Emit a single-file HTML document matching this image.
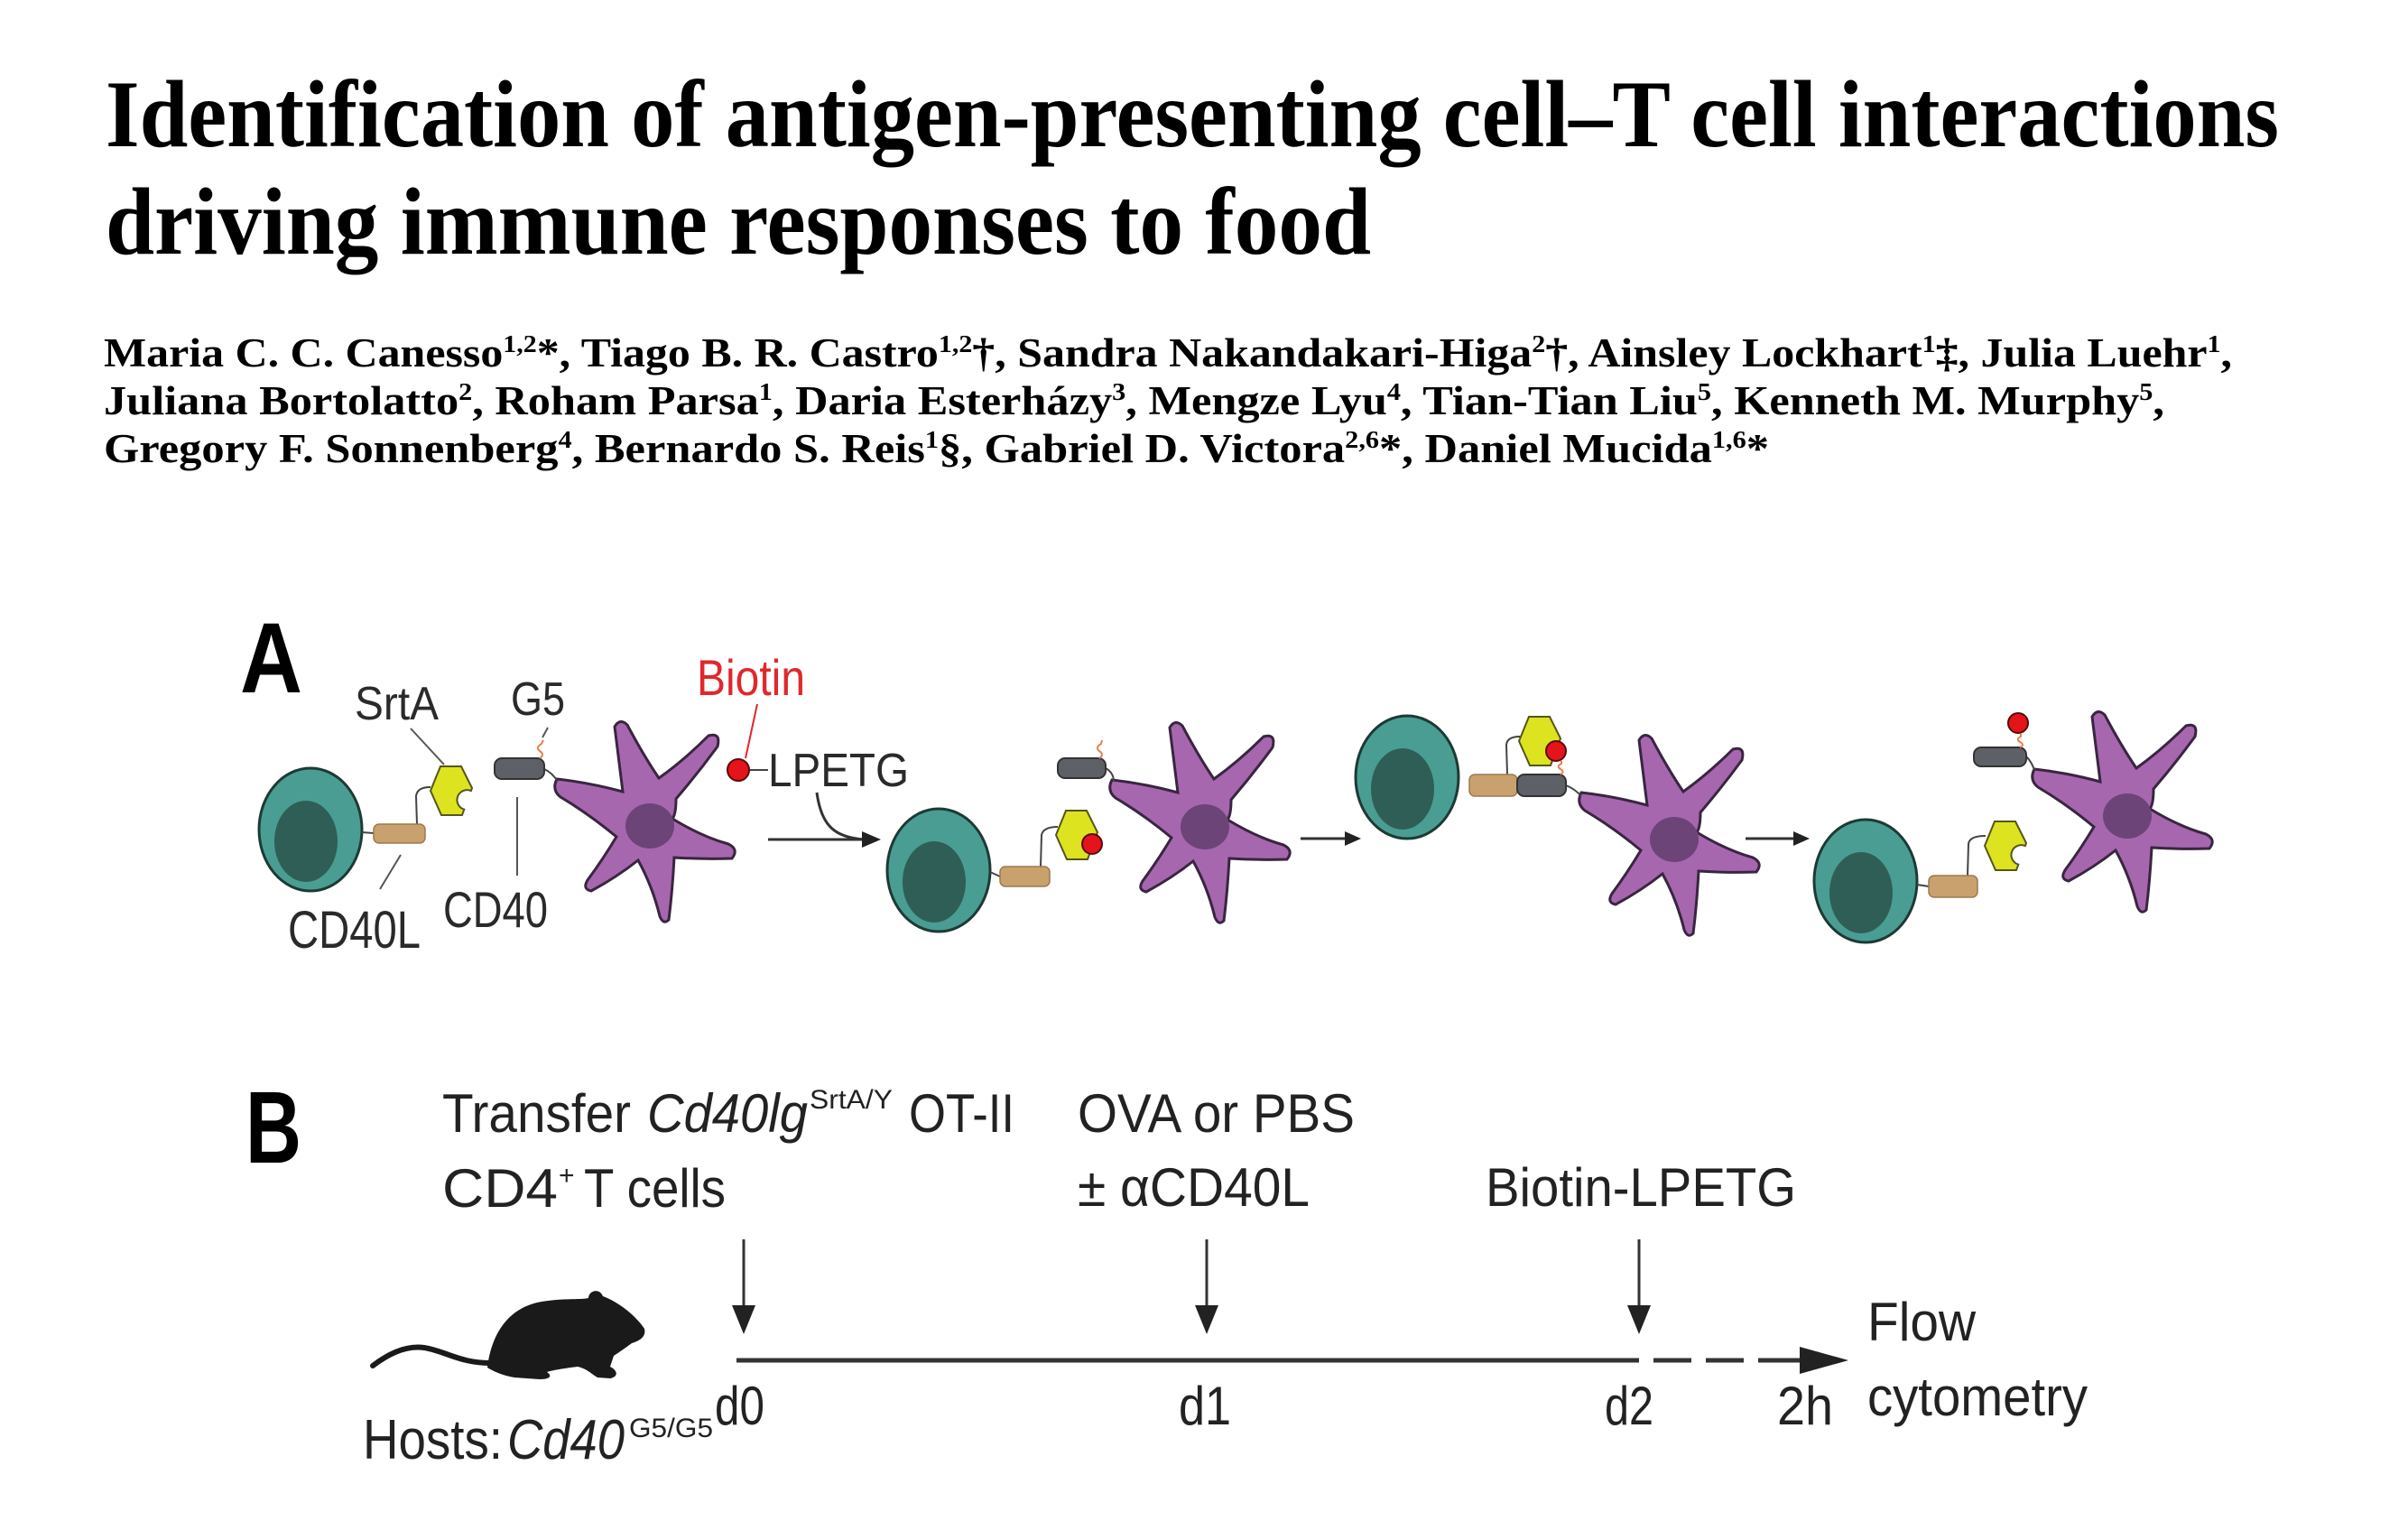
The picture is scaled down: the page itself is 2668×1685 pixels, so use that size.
<!DOCTYPE html>
<html>
<head>
<meta charset="utf-8">
<style>
html,body{margin:0;padding:0;background:#fff;}
svg{display:block;}
</style>
</head>
<body>
<svg width="2668" height="1685" viewBox="0 0 2668 1685" xmlns="http://www.w3.org/2000/svg">
<defs>
  <path id="dc" d="M -96,-44 Q -60,-40 -23,-30 Q -28,-70 -32,-102 Q -26,-112 -18,-104 Q 0,-70 17,-45 Q 45,-65 72,-92 Q 86,-96 82,-80 Q 60,-50 36,-22 Q 36,-5 32,0 Q 65,20 94,28 Q 106,34 98,44 Q 65,45 34,43 Q 32,80 28,112 Q 22,118 18,108 Q 10,75 -6,46 Q -30,65 -58,80 Q -68,78 -62,68 Q -45,45 -30,20 Q -60,-5 -92,-24 Q -102,-32 -96,-44 Z"/>
  <g id="dcell">
    <use href="#dc" fill="#a667af" stroke="#3a2540" stroke-width="3"/>
    <ellipse cx="7" cy="8" rx="27" ry="25" fill="#6c4478"/>
  </g>
  <g id="tcell">
    <ellipse cx="0" cy="0" rx="57" ry="68" fill="#4a9d92" stroke="#1d3a35" stroke-width="3"/>
    <ellipse cx="-5" cy="13" rx="35" ry="45" fill="#2f5e56"/>
  </g>
  <path id="yhex" d="M -23,0 L -12,-27 L 11,-27 L 23,-3 L 12,27 L -11,27 Z"/>
  <path id="ynotch" d="M -23,0 L -12,-27 L 11,-27 L 23,-3 L 21.9,0.1 A 11 11 0 1 0 14.3,20.7 L 12,27 L -11,27 Z"/>
</defs>

<!-- Title -->
<g font-family="'Liberation Serif', serif" font-weight="bold" fill="#000">
  <text x="117" y="162" font-size="106" textLength="2408" lengthAdjust="spacingAndGlyphs">Identification of antigen-presenting cell–T cell interactions</text>
  <text x="117" y="281" font-size="106" textLength="1402" lengthAdjust="spacingAndGlyphs">driving immune responses to food</text>

  <text x="115" y="406" font-size="45" textLength="2358" lengthAdjust="spacingAndGlyphs">Maria C. C. Canesso<tspan dy="-16" font-size="27">1,2</tspan><tspan dy="16">*, Tiago B. R. Castro</tspan><tspan dy="-16" font-size="27">1,2</tspan><tspan dy="16">†, Sandra Nakandakari-Higa</tspan><tspan dy="-16" font-size="27">2</tspan><tspan dy="16">†, Ainsley Lockhart</tspan><tspan dy="-16" font-size="27">1</tspan><tspan dy="16">‡, Julia Luehr</tspan><tspan dy="-16" font-size="27">1</tspan><tspan dy="16">,</tspan></text>
  <text x="115" y="459" font-size="45" textLength="2283" lengthAdjust="spacingAndGlyphs">Juliana Bortolatto<tspan dy="-16" font-size="27">2</tspan><tspan dy="16">, Roham Parsa</tspan><tspan dy="-16" font-size="27">1</tspan><tspan dy="16">, Daria Esterházy</tspan><tspan dy="-16" font-size="27">3</tspan><tspan dy="16">, Mengze Lyu</tspan><tspan dy="-16" font-size="27">4</tspan><tspan dy="16">, Tian-Tian Liu</tspan><tspan dy="-16" font-size="27">5</tspan><tspan dy="16">, Kenneth M. Murphy</tspan><tspan dy="-16" font-size="27">5</tspan><tspan dy="16">,</tspan></text>
  <text x="115" y="512" font-size="45" textLength="1845" lengthAdjust="spacingAndGlyphs">Gregory F. Sonnenberg<tspan dy="-16" font-size="27">4</tspan><tspan dy="16">, Bernardo S. Reis</tspan><tspan dy="-16" font-size="27">1</tspan><tspan dy="16">§, Gabriel D. Victora</tspan><tspan dy="-16" font-size="27">2,6</tspan><tspan dy="16">*, Daniel Mucida</tspan><tspan dy="-16" font-size="27">1,6</tspan><tspan dy="16">*</tspan></text>
</g>

<!-- Panel A -->
<g font-family="'Liberation Sans', sans-serif">
  <text x="266" y="767" font-size="110" font-weight="bold" fill="#000" textLength="69" lengthAdjust="spacingAndGlyphs">A</text>
  <text x="393" y="797" font-size="52" fill="#2a2a2a" textLength="93" lengthAdjust="spacingAndGlyphs">SrtA</text>
  <text x="566" y="792" font-size="52" fill="#2a2a2a" textLength="60" lengthAdjust="spacingAndGlyphs">G5</text>
  <text x="491" y="1027" font-size="56" fill="#2a2a2a" textLength="116" lengthAdjust="spacingAndGlyphs">CD40</text>
  <text x="319" y="1050" font-size="58" fill="#2a2a2a" textLength="147" lengthAdjust="spacingAndGlyphs">CD40L</text>
  <text x="772" y="770" font-size="56" fill="#e0282c" textLength="120" lengthAdjust="spacingAndGlyphs">Biotin</text>
  <text x="851" y="871" font-size="52" fill="#2a2a2a" textLength="156" lengthAdjust="spacingAndGlyphs">LPETG</text>
</g>

<!-- label lines -->
<g stroke="#555" stroke-width="2" fill="none">
  <line x1="455" y1="807" x2="492" y2="847"/>
  <line x1="601" y1="817" x2="607" y2="806"/>
  <line x1="573" y1="883" x2="573" y2="970"/>
  <line x1="444" y1="947" x2="421" y2="985"/>
</g>
<line x1="839" y1="780" x2="826" y2="840" stroke="#e0282c" stroke-width="2"/>

<!-- Group 1 -->
<use href="#dcell" transform="translate(713,907)"/>
<use href="#tcell" transform="translate(344,919)"/>
<g stroke="#444" stroke-width="2" fill="none">
  <line x1="401" y1="922" x2="414" y2="923"/>
  <path d="M 462,913 L 461,882 Q 462,872 477,872"/>
  <path d="M 603,852 Q 612,856 618,866"/>
</g>
<rect x="414" y="913" width="57" height="21" rx="6" fill="#c9a16e" stroke="#9a7a50" stroke-width="1.5"/>
<use href="#ynotch" transform="translate(500,876)" fill="#dde31f" stroke="#55551c" stroke-width="2"/>
<rect x="548" y="840" width="55" height="23" rx="8" fill="#5d6066" stroke="#333" stroke-width="2"/>
<path d="M 598,840 q 6,-4 0,-8 q -5,-4 2,-8 l 2,-4" stroke="#e8804f" stroke-width="2" fill="none"/>

<!-- Biotin LPETG -->
<line x1="830" y1="853" x2="851" y2="853" stroke="#444" stroke-width="2"/>
<circle cx="818" cy="853" r="12" fill="#e4141b" stroke="#5a0a0a" stroke-width="2"/>

<!-- Arrow 1 with curve -->
<g stroke="#333" stroke-width="3" fill="none">
  <line x1="851" y1="930" x2="960" y2="930"/>
  <path d="M 905,878 C 910,915 925,928 958,930"/>
</g>
<polygon points="955,921 976,930 955,939" fill="#222"/>

<!-- Group 2 -->
<use href="#dcell" transform="translate(1328,908)"/>
<use href="#tcell" transform="translate(1040,964)"/>
<g stroke="#444" stroke-width="2" fill="none">
  <line x1="1097" y1="966" x2="1108" y2="971"/>
  <path d="M 1153,960 L 1154,925 Q 1156,916 1172,916"/>
  <path d="M 1225,851 Q 1234,856 1234,866"/>
</g>
<rect x="1108" y="960" width="55" height="22" rx="6" fill="#c9a16e" stroke="#9a7a50" stroke-width="1.5"/>
<use href="#yhex" transform="translate(1193,925)" fill="#dde31f" stroke="#55551c" stroke-width="2"/>
<circle cx="1210" cy="935" r="11" fill="#e4141b" stroke="#5a0a0a" stroke-width="2"/>
<rect x="1172" y="840" width="53" height="22" rx="8" fill="#5d6066" stroke="#333" stroke-width="2"/>
<path d="M 1218,840 q 6,-4 0,-8 q -5,-4 2,-8 l 1,-4" stroke="#e8804f" stroke-width="2" fill="none"/>

<!-- Arrow 2 -->
<line x1="1441" y1="929" x2="1494" y2="929" stroke="#333" stroke-width="3"/>
<polygon points="1490,921 1508,929 1490,937" fill="#222"/>

<!-- Group 3 -->
<use href="#dcell" transform="translate(1848,922)"/>
<use href="#tcell" transform="translate(1559,861)"/>
<g stroke="#444" stroke-width="2" fill="none">
  <path d="M 1670,858 L 1669,825 Q 1670,816 1684,816"/>
  <path d="M 1735,870 Q 1745,874 1752,882"/>
</g>
<rect x="1628" y="858" width="53" height="24" rx="6" fill="#c9a16e" stroke="#9a7a50" stroke-width="1.5"/>
<rect x="1681" y="858" width="54" height="24" rx="8" fill="#5d6066" stroke="#333" stroke-width="2"/>
<use href="#yhex" transform="translate(1706,821)" fill="#dde31f" stroke="#55551c" stroke-width="2"/>
<path d="M 1729,858 q 5,-3 0,-6 q -5,-3 1,-6 l 0,-3" stroke="#e8804f" stroke-width="2" fill="none"/>
<circle cx="1724" cy="832" r="11" fill="#e4141b" stroke="#5a0a0a" stroke-width="2"/>

<!-- Arrow 3 -->
<line x1="1934" y1="929" x2="1990" y2="929" stroke="#333" stroke-width="3"/>
<polygon points="1987,921 2005,929 1987,937" fill="#222"/>

<!-- Group 4 -->
<use href="#dcell" transform="translate(2350,896)"/>
<use href="#tcell" transform="translate(2067,976)"/>
<g stroke="#444" stroke-width="2" fill="none">
  <line x1="2124" y1="980" x2="2137" y2="982"/>
  <path d="M 2180,970 L 2181,935 Q 2182,926 2200,926"/>
  <path d="M 2245,838 Q 2251,844 2254,853"/>
</g>
<rect x="2137" y="970" width="54" height="24" rx="6" fill="#c9a16e" stroke="#9a7a50" stroke-width="1.5"/>
<use href="#ynotch" transform="translate(2222,937)" fill="#dde31f" stroke="#55551c" stroke-width="2"/>
<rect x="2187" y="828" width="58" height="21" rx="8" fill="#5d6066" stroke="#333" stroke-width="2"/>
<path d="M 2238,828 q 6,-3 0,-6 q -5,-3 1,-6 l 0,-3" stroke="#e8804f" stroke-width="2" fill="none"/>
<circle cx="2236" cy="801" r="11" fill="#e4141b" stroke="#5a0a0a" stroke-width="2"/>

<!-- Panel B -->
<g font-family="'Liberation Sans', sans-serif" fill="#222">
  <text x="272" y="1288" font-size="113" font-weight="bold" fill="#000" textLength="62" lengthAdjust="spacingAndGlyphs">B</text>
  <text x="490" y="1254" font-size="60" textLength="209" lengthAdjust="spacingAndGlyphs">Transfer</text>
  <text x="717" y="1254" font-size="60" font-style="italic" textLength="178" lengthAdjust="spacingAndGlyphs">Cd40lg</text>
  <text x="897" y="1228" font-size="30" textLength="92" lengthAdjust="spacingAndGlyphs">SrtA/Y</text>
  <text x="1007" y="1254" font-size="60" textLength="117" lengthAdjust="spacingAndGlyphs">OT-II</text>
  <text x="490" y="1337" font-size="60" textLength="128" lengthAdjust="spacingAndGlyphs">CD4</text>
  <text x="619" y="1312" font-size="30">+</text>
  <text x="647" y="1337" font-size="60" textLength="157" lengthAdjust="spacingAndGlyphs">T cells</text>
  <text x="1194" y="1254" font-size="60" textLength="307" lengthAdjust="spacingAndGlyphs">OVA or PBS</text>
  <text x="1194" y="1336" font-size="60" textLength="257" lengthAdjust="spacingAndGlyphs">± αCD40L</text>
  <text x="1646" y="1336" font-size="60" textLength="344" lengthAdjust="spacingAndGlyphs">Biotin-LPETG</text>
  <text x="2069" y="1485" font-size="60" textLength="120" lengthAdjust="spacingAndGlyphs">Flow</text>
  <text x="2069" y="1568" font-size="60" textLength="244" lengthAdjust="spacingAndGlyphs">cytometry</text>
  <text x="792" y="1578" font-size="60" textLength="55" lengthAdjust="spacingAndGlyphs">d0</text>
  <text x="1306" y="1578" font-size="60" textLength="58" lengthAdjust="spacingAndGlyphs">d1</text>
  <text x="1778" y="1578" font-size="60" textLength="54" lengthAdjust="spacingAndGlyphs">d2</text>
  <text x="1969" y="1578" font-size="60" textLength="62" lengthAdjust="spacingAndGlyphs">2h</text>
  <text x="402" y="1616" font-size="62" textLength="155" lengthAdjust="spacingAndGlyphs">Hosts:</text>
  <text x="562" y="1616" font-size="62" font-style="italic" textLength="130" lengthAdjust="spacingAndGlyphs">Cd40</text>
  <text x="697" y="1592" font-size="30" textLength="93" lengthAdjust="spacingAndGlyphs">G5/G5</text>
</g>

<!-- down arrows -->
<g stroke="#333" stroke-width="3">
  <line x1="824" y1="1373" x2="824" y2="1450"/>
  <line x1="1337" y1="1373" x2="1337" y2="1450"/>
  <line x1="1816" y1="1373" x2="1816" y2="1450"/>
</g>
<g fill="#222">
  <polygon points="811,1446 837,1446 824,1478"/>
  <polygon points="1324,1446 1350,1446 1337,1478"/>
  <polygon points="1803,1446 1829,1446 1816,1478"/>
</g>

<!-- timeline -->
<g stroke="#333" stroke-width="5">
  <line x1="816" y1="1507" x2="1816" y2="1507"/>
  <line x1="1832" y1="1507" x2="1874" y2="1507"/>
  <line x1="1890" y1="1507" x2="1932" y2="1507"/>
  <line x1="1948" y1="1507" x2="1998" y2="1507"/>
</g>
<polygon points="1994,1492 2048,1507 1994,1522" fill="#222"/>

<!-- mouse -->
<path d="M 413,1513 C 430,1500 450,1490 470,1493 C 495,1497 510,1511 548,1510" stroke="#1a1a1a" stroke-width="6" fill="none" stroke-linecap="round"/>
<path d="M 540,1515 C 545,1475 565,1448 600,1442 C 625,1438 645,1440 652,1438 C 652,1430 664,1426 668,1436 C 685,1442 705,1458 714,1472 C 716,1480 710,1485 700,1488 C 692,1494 686,1498 680,1502 L 676,1514 C 684,1518 686,1525 676,1527 L 662,1526 C 655,1522 650,1516 640,1514 C 625,1516 612,1518 606,1520 C 612,1524 610,1528 598,1528 L 570,1526 C 558,1524 548,1520 540,1515 Z" fill="#1a1a1a"/>
</svg>
</body>
</html>
